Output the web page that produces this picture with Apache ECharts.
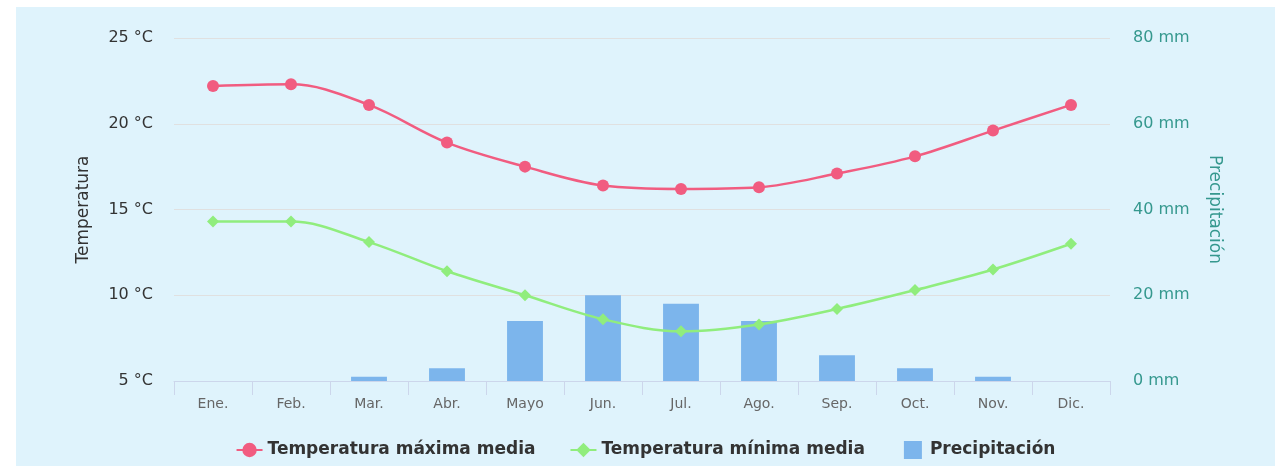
<!DOCTYPE html>
<html>
<head>
<meta charset="utf-8">
<script src="https://cdn.jsdelivr.net/npm/echarts@6/dist/echarts.min.js"></script>
<style>
html,body{margin:0;padding:0;background:#ffffff;width:1276px;height:466px;overflow:hidden;}
#chart{position:absolute;left:16px;top:7px;width:1259px;height:459px;}
</style>
</head>
<body>
<div id="chart"></div>
<script>
const months = ['Ene.', 'Feb.', 'Mar.', 'Abr.', 'Mayo', 'Jun.', 'Jul.', 'Ago.', 'Sep.', 'Oct.', 'Nov.', 'Dic.'];
const tempMax = [22.2, 22.3, 21.1, 18.9, 17.5, 16.4, 16.2, 16.3, 17.1, 18.1, 19.6, 21.1];
const tempMin = [14.3, 14.3, 13.1, 11.4, 10.0, 8.6, 7.9, 8.3, 9.2, 10.3, 11.5, 13.0];
const precip = [0, 0, 1, 3, 14, 20, 18, 14, 6, 3, 1, 0];
const seriesNames = ['Temperatura máxima media', 'Temperatura mínima media', 'Precipitación'];

const FONT = '"DejaVu Sans", "Noto Sans", sans-serif';
const corners = 'M0,0 L0.05,0 L0,0.05 Z M26,18 L25.95,18 L26,17.95 Z ';
const iconBar = 'path://' + corners + 'M5,0 L23,0 L23,18 L5,18 Z';

const chart = echarts.init(document.getElementById('chart'), null, {renderer: 'canvas'});
chart.setOption({
  animation: false,
  backgroundColor: '#dff3fc',
  textStyle: {fontFamily: FONT},
  grid: {left: 158, right: 165, top: 31, bottom: 85},
  legend: {
    bottom: 2,
    left: 'center',
    itemGap: 34,
    itemWidth: 26,
    itemHeight: 18,
    textStyle: {fontSize: 17, fontWeight: 'bold', color: '#333333', fontFamily: FONT},
    data: [
      {name: seriesNames[0]},
      {name: seriesNames[1]},
      {name: seriesNames[2], icon: iconBar, itemStyle: {borderWidth: 0}}
    ]
  },
  xAxis: {
    type: 'category',
    data: months,
    axisLine: {lineStyle: {color: '#ccd6eb', width: 1}},
    axisTick: {show: true, length: 14, lineStyle: {color: '#ccd6eb'}},
    axisLabel: {color: '#666666', fontSize: 14, margin: 16, fontFamily: FONT}
  },
  yAxis: [
    {
      type: 'value',
      min: 5, max: 25, interval: 5,
      name: 'Temperatura',
      nameLocation: 'middle',
      nameGap: 82,
      nameTextStyle: {color: '#333333', fontSize: 17, fontFamily: FONT},
      axisLabel: {formatter: '{value} °C', color: '#333333', fontSize: 16, margin: 21, fontFamily: FONT},
      splitLine: {lineStyle: {color: '#e0e0e0', width: 1}},
      axisLine: {show: false},
      axisTick: {show: false}
    },
    {
      type: 'value',
      min: 0, max: 80, interval: 20,
      name: 'Precipitación',
      nameLocation: 'middle',
      nameRotate: -90,
      nameGap: 96,
      nameTextStyle: {color: '#35988e', fontSize: 17, fontFamily: FONT},
      axisLabel: {formatter: '{value} mm', color: '#35988e', fontSize: 16, margin: 23, fontFamily: FONT},
      splitLine: {show: false},
      axisLine: {show: false},
      axisTick: {show: false}
    }
  ],
  series: [
    {
      name: seriesNames[2],
      type: 'bar',
      yAxisIndex: 1,
      data: precip,
      barWidth: '46%',
      itemStyle: {color: '#7cb5ec', borderWidth: 0},
      z: 1
    },
    {
      name: seriesNames[0],
      type: 'line',
      yAxisIndex: 0,
      data: tempMax,
      smooth: 0.35,
      symbol: 'circle',
      symbolSize: 12,
      itemStyle: {color: '#f15c80'},
      lineStyle: {color: '#f15c80', width: 2.5},
      z: 3
    },
    {
      name: seriesNames[1],
      type: 'line',
      yAxisIndex: 0,
      data: tempMin,
      smooth: 0.35,
      symbol: 'diamond',
      symbolSize: 12,
      itemStyle: {color: '#90ed7d'},
      lineStyle: {color: '#90ed7d', width: 2.5},
      z: 2
    }
  ]
});
</script>
</body>
</html>
